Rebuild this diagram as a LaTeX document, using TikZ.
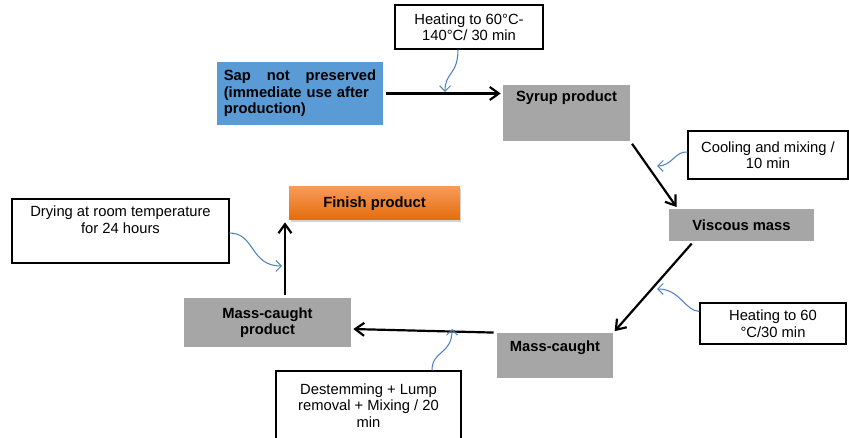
\documentclass[tikz,border=0pt]{standalone}
\usepackage{fontspec}
\setmainfont{Liberation Sans}
\usetikzlibrary{
	arrows.meta,
	positioning,
	shadows,
}
\definecolor{sapblue}{HTML}{5B9BD5}
\definecolor{stagegray}{HTML}{A6A6A6}
\definecolor{hintblue}{HTML}{4F81BD}
\definecolor{finishtop}{HTML}{F79A5A}
\definecolor{finishbot}{HTML}{E46C0A}
\tikzset{
	stage/.style={
		fill=stagegray,
		inner sep=0mm,
		align=center,
		font=\bfseries\fontsize{8.4}{9.4}\selectfont,
	},
	note/.style={
		draw,
		fill=white,
		line width=0.6pt,
		inner sep=0mm,
		align=center,
		font=\fontsize{8.4}{9.4}\selectfont,
	},
	flow/.style={
		-{Straight Barb[length=1.8mm,width=2.6mm]},
		line width=1.25pt,
		shorten <=0.06cm,
		shorten >=0.04cm,
	},
	hint/.style={
		-{Straight Barb[length=1.1mm,width=2.2mm]},
		hintblue,
		line width=0.6pt,
	},
}

\begin{document}
\begin{tikzpicture}[x=0.02cm, y=-0.02cm]
\useasboundingbox (0,0) rectangle (849,438);

% stages
\node[stage, fill=sapblue, minimum width=3.32cm, minimum height=1.26cm, text width=3.05cm, align=left] (sap) at (300,93.5) {Sap\hfill not\hfill preserved\\\mbox{(immediate use after}\\production)};
\node[stage, minimum width=2.54cm, text height=0.34cm, text depth=0.78cm] (syrup) at (566.5,113) {Syrup product};
\node[stage, minimum width=2.9cm, minimum height=0.64cm] (viscous) at (741.5,225) {Viscous mass};
\node[stage, minimum width=2.32cm, text height=0.38cm, text depth=0.52cm] (mass) at (555,355.5) {Mass-caught};
\node[stage, minimum width=3.34cm, minimum height=0.98cm] (product) at (267.5,322.5) {Mass-caught\\product};
\node[stage, top color=finishtop, bottom color=finishbot, drop shadow={shadow xshift=0.03cm, shadow yshift=-0.04cm, fill=black!35}, minimum width=3.42cm, minimum height=0.66cm] (finish) at (374.5,203.5) {Finish product};

% notes
\node[note, minimum width=2.96cm, minimum height=0.88cm] (heatA) at (469,27) {Heating to 60°C-\\140°C/ 30 min};
\node[note, minimum width=3.2cm, minimum height=0.96cm] (cool) at (768,155) {Cooling and mixing /\\10 min};
\node[note, minimum width=2.92cm, minimum height=0.82cm] (heatB) at (773,323.5) {Heating to 60\\°C/30 min};
\node[note, minimum width=3.7cm, minimum height=1.38cm] (destem) at (368.5,405.5) {Destemming + Lump\\removal + Mixing / 20\\min};
\node[note, minimum width=4.34cm, text height=0.69cm, text depth=0.59cm] (drying) at (120.5,231) {Drying at room temperature\\for 24 hours};

% flow
\draw[flow] (sap.east) -- (sap.east -| syrup.west);
\draw[flow] (syrup.south east) -- ([xshift=0.18cm]viscous.north west);
\draw[flow] ([xshift=0.5cm]viscous.south west) -- (mass.north east);
\draw[flow] (mass.north west) -- ([yshift=-0.13cm]product.east);
\draw[flow] ([xshift=0.35cm]product.north) -- ([xshift=0.35cm]product.north |- finish.south);

% hints
\coordinate (hA) at (445,92);
\coordinate (hB) at (657,166);
\coordinate (hC) at (657,289);
\coordinate (hD) at (452,329);
\coordinate (hE) at (282,266);
\draw[hint] ([xshift=-0.22cm]heatA.south) .. controls (458,75) and (445,72) .. (hA);
\draw[hint] ([yshift=0.06cm]cool.west) .. controls (675,151) and (672,166) .. (hB);
\draw[hint] ([yshift=0.24cm]heatB.west) .. controls (685,311) and (680,289) .. (hC);
\draw[hint] ([xshift=1.27cm]destem.north) .. controls (432,350) and (452,355) .. (hD);
\draw[hint] ([yshift=-0.04cm]drying.east) .. controls (255,233) and (250,266) .. (hE);
\end{tikzpicture}
\end{document}
